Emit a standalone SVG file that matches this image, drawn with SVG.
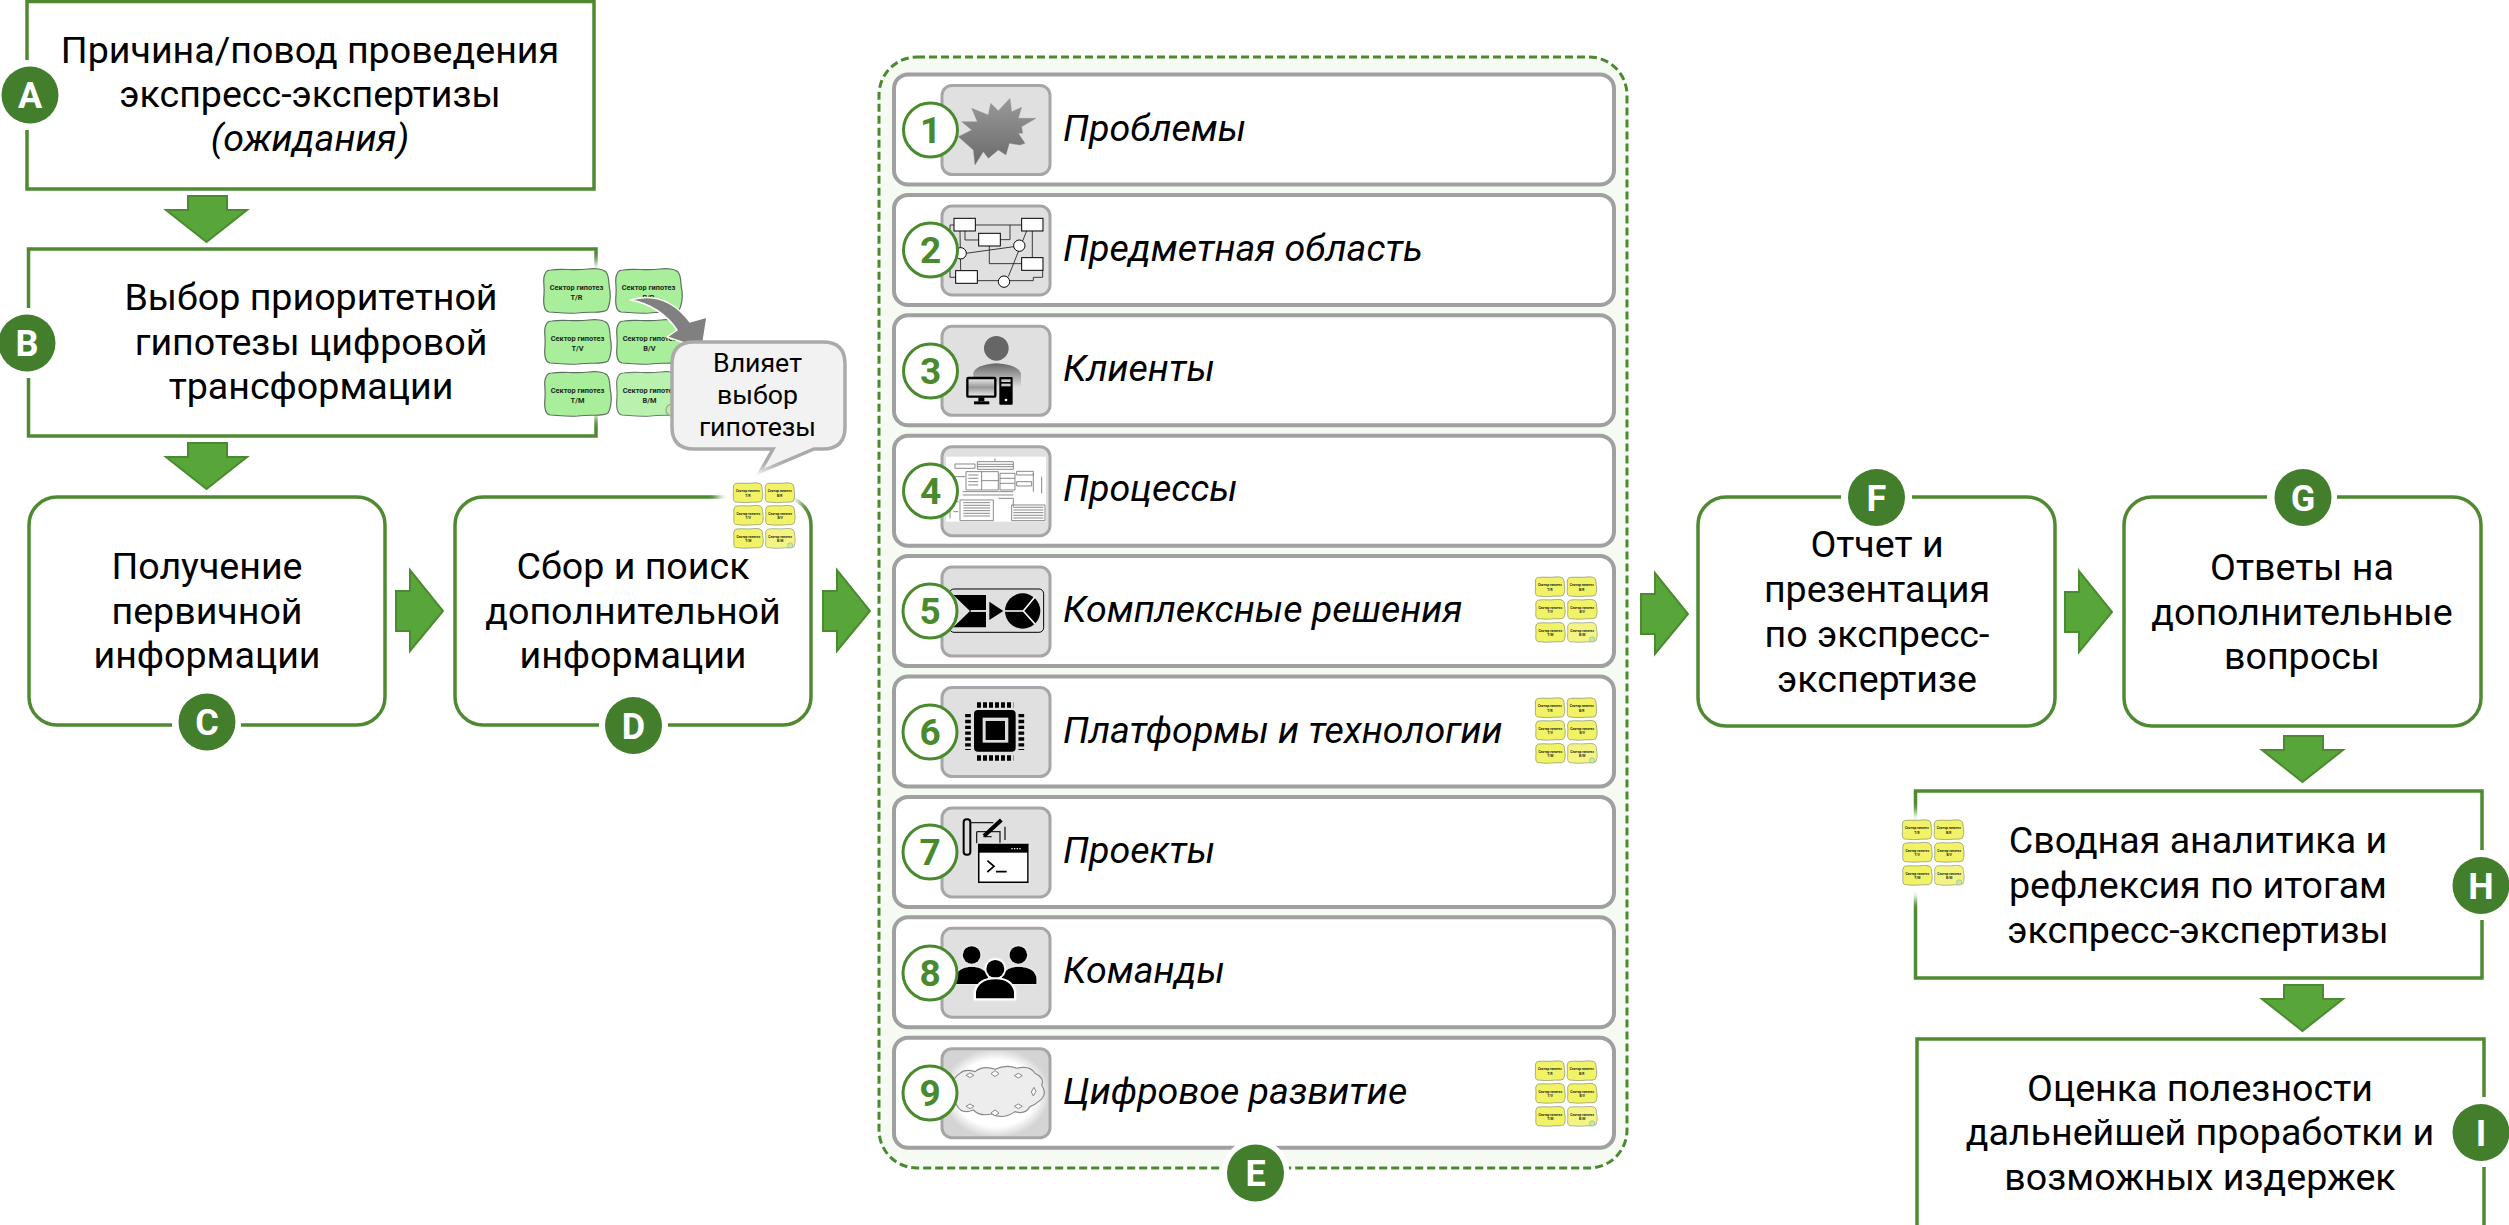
<svg xmlns="http://www.w3.org/2000/svg" width="2509" height="1225" viewBox="0 0 2509 1225">
<style>
text{font-family:Roboto,"Liberation Sans",sans-serif;fill:#000}
.t{font-size:37.6px;text-anchor:middle}
.i{font-size:37.6px;font-style:italic}
.c{font-size:26.7px;text-anchor:middle}
.box{fill:#fff;stroke:#4f8a32;stroke-width:3.5}
.b{fill:#437e2d}
.h{fill:#fff}
.l{font-size:36px;font-weight:700;text-anchor:middle;fill:#fff}
.row{fill:#fff;stroke:#a0a0a0;stroke-width:4}
.tile{fill:#e0e0e0;stroke:#a6a6a6;stroke-width:3}
.n{fill:#fff;stroke:#4a8a2e;stroke-width:3}
.d{font-size:37px;font-weight:700;text-anchor:middle;fill:#4a8a2e}
.arr{fill:#58a539;stroke:#4b8b2f;stroke-width:2}
.ct{font-size:7.4px;font-weight:700;text-anchor:middle;fill:#1c2a1c}
.w{fill:#fff;stroke:#000;stroke-width:3}
.k{fill:#000}
.ln{fill:none;stroke:#222;stroke-width:2.6}
.pl{fill:none;stroke:#777;stroke-width:2.6}
</style>
<defs>
<filter id="blur" x="-20%" y="-20%" width="140%" height="140%"><feGaussianBlur stdDeviation="5"/></filter>
<filter id="soft" x="-10%" y="-10%" width="120%" height="120%"><feGaussianBlur stdDeviation=".8"/></filter>
<filter id="glow" x="-20%" y="-20%" width="140%" height="140%"><feDropShadow dx="0" dy="0" stdDeviation="3" flood-color="#fff"/></filter>
<linearGradient id="gStar" x1="0" y1="0" x2="0" y2="1"><stop offset="0" stop-color="#999"/><stop offset="1" stop-color="#6a6a6a"/></linearGradient>
<linearGradient id="gBody" x1="0" y1="0" x2="0" y2="1"><stop offset="0" stop-color="#666"/><stop offset="1" stop-color="#e0e0e0"/></linearGradient>
<linearGradient id="gMon" x1="0" y1="0" x2="0" y2="1"><stop offset="0" stop-color="#eee"/><stop offset=".5" stop-color="#999"/><stop offset="1" stop-color="#eee"/></linearGradient>
<radialGradient id="gCloud"><stop offset=".75" stop-color="#fff"/><stop offset="1" stop-color="#d4d4d4"/></radialGradient>
<polygon id="ad" class="arr" points="22,0 61,0 61,14 81,14 40.5,46 0,14 22,14"/>
<polygon id="ar" class="arr" points="0,21 14,21 14,0 47,41 14,81 14,61 0,61"/>
<path id="card" fill="currentColor" stroke="#5f6f5f" stroke-width="1.2" d="M8,1C20,-1 30,2 45,0C52,-1 60,0 63,3C67,8 65,14 67,22C68,30 66,38 64,41C58,45 48,42 34,44C22,45 12,43 6,43C1,42 0,36 1,26C2,16 -1,10 2,5C3,2 5,1 8,1Z"/>
<g id="cards">
<g><use href="#card"/><text class="ct" x="33.5" y="21">Сектор гипотез</text><text class="ct" x="33.5" y="31">T/R</text></g>
<g transform="translate(72,0)"><use href="#card"/><text class="ct" x="33.5" y="21">Сектор гипотез</text><text class="ct" x="33.5" y="31">B/R</text></g>
<g transform="translate(1,51)"><use href="#card"/><text class="ct" x="33.5" y="21">Сектор гипотез</text><text class="ct" x="33.5" y="31">T/V</text></g>
<g transform="translate(73,51)"><use href="#card"/><text class="ct" x="33.5" y="21">Сектор гипотез</text><text class="ct" x="33.5" y="31">B/V</text></g>
<g transform="translate(1,103)"><use href="#card"/><text class="ct" x="33.5" y="21">Сектор гипотез</text><text class="ct" x="33.5" y="31">T/M</text></g>
<g transform="translate(73,103)"><use href="#card"/><path fill="#fff" fill-opacity=".2" d="M8,1C20,-1 30,2 45,0C52,-1 60,0 63,3C67,8 65,14 67,22C68,30 66,38 64,41C58,45 48,42 34,44C22,45 12,43 6,43C1,42 0,36 1,26C2,16 -1,10 2,5C3,2 5,1 8,1Z"/><text class="ct" x="33.5" y="21">Сектор гипотез</text><text class="ct" x="33.5" y="31">B/M</text></g>
<circle cx="129" cy="141" r="6" fill="#c8e8a8" stroke="#8fae80" stroke-width="1.2"/>
</g>
</defs>
<rect width="2509" height="1225" fill="#fff"/>

<g id="connectors">
<use href="#ad" x="166" y="196"/>
<use href="#ad" x="166" y="443"/>
<use href="#ar" x="396" y="570"/>
<use href="#ar" x="823" y="570"/>
<use href="#ar" x="1641" y="573"/>
<use href="#ar" x="2065" y="571"/>
<use href="#ad" x="2262" y="736"/>
<use href="#ad" x="2262" y="985"/>
</g>

<g id="node-a">
<rect class="box" x="27" y="1.5" width="567" height="187.5"/>
<rect class="h" x="20" y="60" width="20" height="70"/>
<circle class="b" cx="30" cy="95" r="28.5"/>
<text class="l" x="30" y="108">A</text>
<text class="t" x="310" y="63">Причина/повод проведения</text>
<text class="t" x="310" y="107">экспресс-экспертизы</text>
<text class="t" x="310" y="151" font-style="italic">(ожидания)</text>
</g>

<g id="node-b">
<rect class="box" x="28.5" y="249" width="567.5" height="187"/>
<rect class="h" x="20" y="308" width="20" height="70"/>
<rect class="h" x="532" y="262" width="165" height="156" filter="url(#blur)"/>
<circle class="b" cx="27" cy="343" r="28.5"/>
<text class="l" x="27" y="356">B</text>
<text class="t" x="311" y="310">Выбор приоритетной</text>
<text class="t" x="311" y="355">гипотезы цифровой</text>
<text class="t" x="311" y="399">трансформации</text>
<use href="#cards" transform="translate(543,269)" color="#a8ee9b"/>
<path d="M630,300C650,294 672,298 690,322L707,317L702,349L667,337L677,330C667,315 650,303 630,300Z" fill="#808080" stroke="#fff" stroke-width="1.5"/>
<path d="M694,342Q672,342 672,364V427Q672,449 694,449H773L760,472L814,449H823Q845,449 845,427V364Q845,342 823,342Z" fill="#f2f2f2" stroke="#aaa" stroke-width="3.5"/>
<text class="c" x="757.5" y="372">Влияет</text>
<text class="c" x="757.5" y="404">выбор</text>
<text class="c" x="757.5" y="436">гипотезы</text>
</g>

<g id="node-c">
<rect class="box" x="29" y="497" width="356" height="228" rx="28"/>
<rect class="h" x="172" y="715" width="69" height="20"/>
<circle class="b" cx="207" cy="722" r="28.5"/>
<text class="l" x="207" y="735">C</text>
<text class="t" x="207" y="579">Получение</text>
<text class="t" x="207" y="624">первичной</text>
<text class="t" x="207" y="668">информации</text>
</g>

<g id="node-d">
<rect class="box" x="455" y="497" width="356" height="228" rx="28"/>
<rect class="h" x="599" y="715" width="69" height="20"/>
<rect class="h" x="718" y="470" width="82" height="95" filter="url(#blur)"/>
<circle class="b" cx="633.5" cy="725.5" r="28.5"/>
<text class="l" x="633.5" y="738.5">D</text>
<text class="t" x="633" y="579">Сбор и поиск</text>
<text class="t" x="633" y="624">дополнительной</text>
<text class="t" x="633" y="668">информации</text>
<use href="#cards" transform="translate(733,483) scale(.443)" color="#f2f266"/>
</g>

<g id="node-e">
<rect x="879" y="57" width="748" height="1111" rx="38" fill="#f5faf3" stroke="#4a8a2e" stroke-width="3" stroke-dasharray="8 4"/>

<g id="row-1">
<rect class="row" x="894" y="74.5" width="720" height="110" rx="14"/>
<rect class="tile" x="942" y="85.5" width="108" height="89" rx="10"/>
<polygon fill="url(#gStar)" stroke="#8a8a8a" transform="translate(920,70) scale(.3333)" points="270,85 275,125 305,112 295,145 348,145 305,170 308,190 295,190 315,220 300,225 268,220 258,255 235,240 205,265 190,245 165,285 160,240 115,200 155,180 125,155 172,155 155,115 205,135 212,100 235,122"/>
<circle class="n" cx="930.5" cy="130" r="27"/>
<text class="d" x="930.5" y="143">1</text>
<text class="i" x="1063" y="140.5">Проблемы</text>
</g>

<g id="row-2">
<rect class="row" x="894" y="194.9" width="720" height="110" rx="14"/>
<rect class="tile" x="942" y="205.9" width="108" height="89" rx="10"/>
<g transform="translate(920,70) scale(.3333)">
<path class="ln" d="M102,465H90V622H107M166,465H305M135,483V510H176M120,483L122,600M270,465V509H241M208,528V581H305M337,483V563M368,600V622H340V632H270M172,622V632H235M138,550L282,530M320,483L265,620"/>
<rect class="w" x="102" y="445" width="64" height="38"/><rect class="w" x="305" y="445" width="64" height="38"/><rect class="w" x="176" y="490" width="65" height="38"/><rect class="w" x="305" y="563" width="64" height="38"/><rect class="w" x="107" y="602" width="65" height="38"/>
<circle class="w" cx="122" cy="550" r="17"/><circle class="w" cx="298" cy="527" r="17"/><circle class="w" cx="252" cy="635" r="17"/>
</g>
<circle class="n" cx="930.5" cy="250" r="27"/>
<text class="d" x="930.5" y="263">2</text>
<text class="i" x="1063" y="260.5">Предметная область</text>
</g>

<g id="row-3">
<rect class="row" x="894" y="315.3" width="720" height="110" rx="14"/>
<rect class="tile" x="942" y="326.3" width="108" height="89" rx="10"/>
<g transform="translate(920,310) scale(.3333)">
<circle cx="229" cy="115" r="37" fill="#666"/>
<path d="M160,190Q165,165 229,160Q295,165 303,190V232H160Z" fill="url(#gBody)"/>
<rect x="142" y="204" width="84" height="56" fill="url(#gMon)" stroke="#000" stroke-width="7" rx="3"/>
<rect x="175" y="262" width="18" height="12" class="k"/><rect x="162" y="274" width="46" height="9" class="k"/>
<rect x="238" y="201" width="40" height="83" rx="3" class="k"/>
<rect x="244" y="208" width="28" height="8" fill="#ccc"/><rect x="244" y="221" width="28" height="8" fill="#ccc"/><circle cx="258" cy="270" r="4" fill="#fff"/>
</g>
<circle class="n" cx="930.5" cy="371" r="27"/>
<text class="d" x="930.5" y="384">3</text>
<text class="i" x="1063" y="380.5">Клиенты</text>
</g>

<g id="row-4">
<rect class="row" x="894" y="435.7" width="720" height="110" rx="14"/>
<rect class="tile" x="942" y="446.7" width="108" height="89" rx="10"/>
<g transform="translate(920,310) scale(.3333)">
<rect x="78" y="440" width="300" height="195" fill="#fff"/>
<g filter="url(#soft)"><path class="pl" d="M105,462H165V475H105ZM172,455H280V478H172ZM172,463H280M172,470H280M138,485H235V540H138ZM145,495H175M145,505H175M145,515H175M145,525H175M185,485V540M185,512H235M240,490H285V540H240ZM240,505H285M240,520H285M290,484H340V495H290ZM290,515H335V528H290ZM128,545H280M128,555H280M120,570H220V632H120ZM130,578H210M130,586H210M130,594H210M130,602H210M130,610H210M130,618H210M275,585H375V632H275ZM280,592H370M280,600H370M280,608H370M280,616H370M280,624H370M225,445V455M100,500H135M340,490V545M365,500V550M90,590V625M235,565H280V590M100,575H115M100,605H115"/></g>
</g>
<circle class="n" cx="930.5" cy="491" r="27"/>
<text class="d" x="930.5" y="504">4</text>
<text class="i" x="1063" y="501">Процессы</text>
</g>

<g id="row-5">
<rect class="row" x="894" y="556.1" width="720" height="110" rx="14"/>
<rect class="tile" x="942" y="567.1" width="108" height="89" rx="10"/>
<g transform="translate(920,550) scale(.3333)">
<rect x="88" y="117" width="283" height="130" rx="14" fill="#e0e0e0" stroke="#000" stroke-width="3"/>
<polygon class="k" points="100,135 198,135 198,232 100,232 150,183"/>
<path fill="none" stroke="#fff" stroke-width="5" d="M152,183H198"/>
<polygon class="k" points="208,155 250,183 208,210"/>
<circle class="k" cx="308" cy="183" r="53"/>
<path fill="none" stroke="#fff" stroke-width="5" d="M255,183H310L345,140M310,183L345,222"/>
</g>
<circle class="n" cx="930" cy="611" r="27"/>
<text class="d" x="930" y="624">5</text>
<text class="i" x="1063" y="621.5">Комплексные решения</text>
<use href="#cards" transform="translate(1535,577) scale(.443)" color="#f2f266"/>
</g>

<g id="row-6">
<rect class="row" x="894" y="676.5" width="720" height="110" rx="14"/>
<rect class="tile" x="942" y="687.5" width="108" height="89" rx="10"/>
<g transform="translate(920,550) scale(.3333)">
<rect class="k" x="162" y="480" width="125" height="125" rx="12"/>
<rect x="188" y="503" width="77" height="75" fill="#ddd"/>
<rect class="k" x="197" y="513" width="58" height="57"/>
<path fill="none" stroke="#000" stroke-width="16" stroke-dasharray="12 6" d="M171,465H280M171,624H280"/>
<path fill="none" stroke="#000" stroke-width="17" stroke-dasharray="10 7.5" d="M144,492V600M304,492V600"/>
</g>
<circle class="n" cx="930" cy="732" r="27"/>
<text class="d" x="930" y="745">6</text>
<text class="i" x="1063" y="742.5">Платформы и технологии</text>
<use href="#cards" transform="translate(1535,698) scale(.443)" color="#f2f266"/>
</g>

<g id="row-7">
<rect class="row" x="894" y="796.9" width="720" height="110" rx="14"/>
<rect class="tile" x="942" y="807.9" width="108" height="89" rx="10"/>
<g transform="translate(920,790) scale(.3333)">
<rect x="131" y="88" width="20" height="106" rx="9" fill="#ddd" stroke="#000" stroke-width="6"/>
<path fill="none" stroke="#222" stroke-width="4" d="M151,98H220M255,110V150M170,125H240V160M170,125V160M190,140H215"/>
<path stroke="#000" stroke-width="12" d="M192,138L244,90"/>
<g filter="url(#glow)"><rect x="176" y="163" width="148" height="114" fill="#fff" stroke="#000" stroke-width="5"/>
<rect class="k" x="176" y="163" width="148" height="25"/></g>
<path fill="none" stroke="#fff" stroke-width="4" stroke-dasharray="4 4" d="M274,176H306"/>
<path fill="none" stroke="#000" stroke-width="5" d="M202,212L222,229L202,246M228,245H260"/>
</g>
<circle class="n" cx="930" cy="852" r="27"/>
<text class="d" x="930" y="865">7</text>
<text class="i" x="1063" y="863">Проекты</text>
</g>

<g id="row-8">
<rect class="row" x="894" y="917.3" width="720" height="110" rx="14"/>
<rect class="tile" x="942" y="928.3" width="108" height="89" rx="10"/>
<g transform="translate(920,790) scale(.3333)" filter="url(#glow)">
<circle class="k" cx="155" cy="495" r="27"/><circle class="k" cx="295" cy="495" r="27"/>
<path class="k" d="M105,582V565Q112,530 155,530Q198,530 205,565V582ZM245,582V565Q252,530 295,530Q345,530 350,565V582Z"/>
<circle cx="226" cy="537" r="32" fill="#fff"/>
<circle class="k" cx="226" cy="537" r="27"/>
<path d="M165,628V605Q175,565 226,565Q276,565 285,605V628Z" fill="#000" stroke="#fff" stroke-width="6"/>
</g>
<circle class="n" cx="930" cy="973" r="27"/>
<text class="d" x="930" y="986">8</text>
<text class="i" x="1063" y="983">Команды</text>
</g>

<g id="row-9">
<rect class="row" x="894" y="1037.7" width="720" height="110" rx="14"/>
<rect x="942" y="1048.7" width="108" height="89" rx="10" fill="url(#gCloud)" stroke="#a6a6a6" stroke-width="3"/>
<g transform="translate(920,790) scale(.3333)">
<path d="M120,850Q135,835 165,845Q190,825 225,838Q260,822 290,835Q330,825 345,850Q375,865 365,885Q385,915 355,935Q345,945 330,950Q315,975 285,965Q250,990 215,972Q180,980 160,960Q125,975 110,945Q90,925 100,900Q90,870 120,850Z" fill="#ededed" stroke="#8a8a8a" stroke-width="3.5"/>
<path fill="#fff" stroke="#888" stroke-width="3" d="M150,849l12,7l-12,7l-12,-7zM225,842l12,9l-12,9l-12,-9zM295,850l12,7l-12,7l-12,-7zM150,942l12,7l-12,7l-12,-7zM225,960l12,9l-12,9l-12,-9zM295,942l12,7l-12,7l-12,-7zM342,892l6,12l-8,14l-6,-12z"/>
</g>
<circle class="n" cx="930" cy="1093" r="27"/>
<text class="d" x="930" y="1106">9</text>
<text class="i" x="1063" y="1104">Цифровое развитие</text>
<use href="#cards" transform="translate(1535,1061) scale(.443)" color="#f2f266"/>
</g>

<circle class="h" cx="1255.5" cy="1173" r="34"/>
<circle class="b" cx="1255.5" cy="1173" r="28.5"/>
<text class="l" x="1255.5" y="1186">E</text>
</g>

<g id="node-f">
<rect class="box" x="1698" y="497" width="357" height="229" rx="28"/>
<rect class="h" x="1841" y="487" width="71" height="20"/>
<circle class="b" cx="1876.5" cy="497.5" r="28.5"/>
<text class="l" x="1876.5" y="510.5">F</text>
<text class="t" x="1877" y="556.5">Отчет и</text>
<text class="t" x="1877" y="601.5">презентация</text>
<text class="t" x="1877" y="647">по экспресс-</text>
<text class="t" x="1877" y="691.5">экспертизе</text>
</g>

<g id="node-g">
<rect class="box" x="2124" y="497" width="357" height="229" rx="28"/>
<rect class="h" x="2267" y="487" width="70" height="20"/>
<circle class="b" cx="2303" cy="497.5" r="28.5"/>
<text class="l" x="2303" y="510.5">G</text>
<text class="t" x="2302" y="579.5">Ответы на</text>
<text class="t" x="2302" y="625">дополнительные</text>
<text class="t" x="2302" y="669">вопросы</text>
</g>

<g id="node-h">
<rect class="box" x="1915.5" y="791" width="566.5" height="187"/>
<rect class="h" x="2471" y="850" width="20" height="70"/>
<rect class="h" x="1888" y="812" width="90" height="88" filter="url(#blur)"/>
<circle class="b" cx="2481" cy="885.5" r="28.5"/>
<text class="l" x="2481" y="898.5">H</text>
<text class="t" x="2198" y="852.5">Сводная аналитика и</text>
<text class="t" x="2198" y="898">рефлексия по итогам</text>
<text class="t" x="2198" y="943">экспресс-экспертизы</text>
<use href="#cards" transform="translate(1902,820) scale(.443)" color="#f2f266"/>
</g>

<g id="node-i">
<rect class="box" x="1917" y="1039" width="567" height="190"/>
<rect class="h" x="2471" y="1097" width="20" height="70"/>
<circle class="b" cx="2481" cy="1132.5" r="28.5"/>
<text class="l" x="2481" y="1145.5">I</text>
<text class="t" x="2200" y="1100.5">Оценка полезности</text>
<text class="t" x="2200" y="1145">дальнейшей проработки и</text>
<text class="t" x="2200" y="1190">возможных издержек</text>
</g>
</svg>
